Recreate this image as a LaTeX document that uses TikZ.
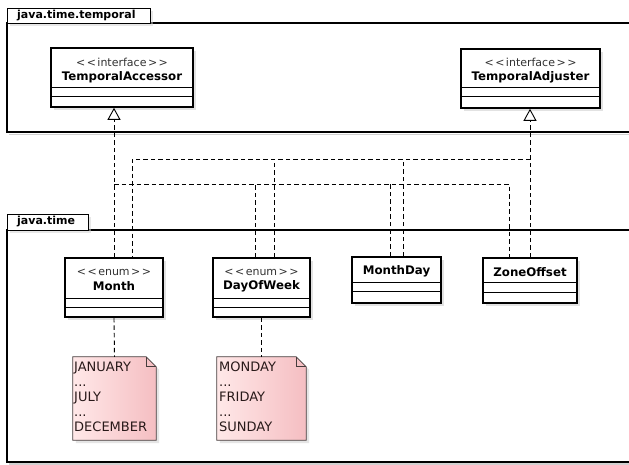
\documentclass[tikz,border=0pt]{standalone}
\usepackage{fontspec}
\setmainfont{DejaVu Sans}
\usetikzlibrary{arrows.meta,shadows,calc}
\definecolor{notelight}{RGB}{255,232,232}
\definecolor{notedark}{RGB}{245,190,194}
\definecolor{noteline}{RGB}{70,60,60}
\definecolor{notetext}{RGB}{40,25,25}
\definecolor{stereo}{RGB}{50,50,50}
\begin{document}
\begin{tikzpicture}[x=1pt,y=-1pt,
  pkgline/.style={line width=1.4pt},
  pkgtab/.style={draw, pkgline, fill=white, anchor=north west, inner sep=0pt,
    drop shadow={shadow xshift=2pt,shadow yshift=-2pt,fill=black!18}},
  pkglabel/.style={font=\fontsize{11}{13}\bfseries\selectfont, inner sep=0pt, anchor=west},
  cls/.style={draw, line width=1.6pt, fill=white, inner sep=0pt,
    drop shadow={shadow xshift=3pt,shadow yshift=-3pt,fill=black!22}},
  comp/.style={line width=0.8pt},
  stereotype/.style={font=\fontsize{11}{13}\selectfont, text=stereo, inner sep=0pt},
  clsname/.style={font=\fontsize{11.8}{14}\bfseries\selectfont, inner sep=0pt},
  dep/.style={line width=0.9pt, dash pattern=on 4.5pt off 3pt},
  realize/.style={dep, -{Triangle[open, width=13pt, length=12pt, line width=0.9pt]}},
  notebox/.style={inner sep=0pt},
  notefill/.style={draw=noteline, line width=0.8pt, left color=notelight, right color=notedark,
    drop shadow={shadow xshift=3pt,shadow yshift=-3pt,fill=black!20}},
  notetxt/.style={font=\fontsize{13}{15}\selectfont, text=notetext, align=left, inner sep=0pt, anchor=north west}
]
\useasboundingbox (0,0) rectangle (629,464);

% package java.time.temporal
\draw[black!18, line width=1.4pt] (9,134.5) -- (629,134.5);
\draw[pkgline, fill=white] (629,23) -- (7,23) -- (7,132) -- (629,132);
\node[pkgtab, minimum width=143, minimum height=15] (ttab) at (7,8) {};
\node[pkglabel] (tlabel) at (17,15.5) {java.time.temporal};

% package java.time
\draw[black!18, line width=1.4pt] (9,464) -- (629,464);
\draw[pkgline, fill=white] (629,230) -- (7,230) -- (7,462) -- (629,462);
\node[pkgtab, minimum width=81, minimum height=16] (jtab) at (7,214) {};
\node[pkglabel] (jlabel) at (17,222) {java.time};

% interfaces
\node[cls, minimum width=142, minimum height=59] (acc) at (122,77.5) {};
\node[stereotype] (accst) at (122,62.5) {<\kern1.5pt<\kern1.5pt interface\kern1.5pt>\kern1.5pt>};
\node[clsname] (accnm) at (122,77) {TemporalAccessor};
\draw[comp] (acc.west |- 0,87) -- (acc.east |- 0,87);
\draw[comp] (acc.west |- 0,96) -- (acc.east |- 0,96);

\node[cls, minimum width=139, minimum height=59] (adj) at (530.5,78.5) {};
\node[stereotype] (adjst) at (530.5,62.5) {<\kern1.5pt<\kern1.5pt interface\kern1.5pt>\kern1.5pt>};
\node[clsname] (adjnm) at (530.5,77) {TemporalAdjuster};
\draw[comp] (adj.west |- 0,87) -- (adj.east |- 0,87);
\draw[comp] (adj.west |- 0,96) -- (adj.east |- 0,96);

% classes
\node[cls, minimum width=98, minimum height=59] (month) at (114,287.5) {};
\node[stereotype] (monthst) at (114,272.5) {<\kern1.5pt<\kern1.5pt enum\kern1.5pt>\kern1.5pt>};
\node[clsname] (monthnm) at (114,286.5) {Month};
\draw[comp] (month.west |- 0,298) -- (month.east |- 0,298);
\draw[comp] (month.west |- 0,307) -- (month.east |- 0,307);

\node[cls, minimum width=97, minimum height=59] (dow) at (261.5,287.5) {};
\node[stereotype] (dowst) at (261.5,272.5) {<\kern1.5pt<\kern1.5pt enum\kern1.5pt>\kern1.5pt>};
\node[clsname] (downm) at (261.5,286.5) {DayOfWeek};
\draw[comp] (dow.west |- 0,298) -- (dow.east |- 0,298);
\draw[comp] (dow.west |- 0,307) -- (dow.east |- 0,307);

\node[cls, minimum width=89, minimum height=46] (mday) at (396.5,280) {};
\node[clsname] (mdaynm) at (396.5,271.5) {MonthDay};
\draw[comp] (mday.west |- 0,282) -- (mday.east |- 0,282);
\draw[comp] (mday.west |- 0,291) -- (mday.east |- 0,291);

\node[cls, minimum width=94, minimum height=45] (zone) at (530,280.5) {};
\node[clsname] (zonenm) at (530,272) {ZoneOffset};
\draw[comp] (zone.west |- 0,282) -- (zone.east |- 0,282);
\draw[comp] (zone.west |- 0,292) -- (zone.east |- 0,292);

% realizations of TemporalAccessor
\coordinate (busA) at (114,184);
\coordinate (dowA) at ([xshift=-6.5pt]dow.north);
\coordinate (mdA) at ([xshift=-6.5pt]mday.north);
\coordinate (zoA) at ([xshift=-21pt]zone.north);
\draw[realize] (month.north) -- (month.north |- acc.south);
\draw[dep] (busA) -| (zoA);
\draw[dep] (dowA) -- (dowA |- busA);
\draw[dep] (mdA) -- (mdA |- busA);

% realizations of TemporalAdjuster
\coordinate (busB) at (530,159);
\coordinate (monB) at ([xshift=18pt]month.north);
\coordinate (dowB) at ([xshift=12.5pt]dow.north);
\coordinate (mdB) at ([xshift=6.5pt]mday.north);
\draw[realize] (zone.north) -- (zone.north |- adj.south);
\draw[dep] (busB) -| (monB);
\draw[dep] (dowB) -- (dowB |- busB);
\draw[dep] (mdB) -- (mdB |- busB);

% notes
\node[notebox, minimum width=83, minimum height=83] (mnote) at (114.5,398.5) {};
\path[notefill] (mnote.north west) -- ([xshift=-10pt]mnote.north east) -- ([yshift=-10pt]mnote.north east)
  -- (mnote.south east) -- (mnote.south west) -- cycle;
\draw[noteline, line width=0.8pt] ([xshift=-10pt]mnote.north east) -- ([xshift=-10pt,yshift=-10pt]mnote.north east) -- ([yshift=-10pt]mnote.north east);
\node[notetxt] (mtext) at (74,361.5) {JANUARY\\...\\JULY\\...\\DECEMBER};

\node[notebox, minimum width=89, minimum height=83] (dnote) at (261.5,398.5) {};
\path[notefill] (dnote.north west) -- ([xshift=-10pt]dnote.north east) -- ([yshift=-10pt]dnote.north east)
  -- (dnote.south east) -- (dnote.south west) -- cycle;
\draw[noteline, line width=0.8pt] ([xshift=-10pt]dnote.north east) -- ([xshift=-10pt,yshift=-10pt]dnote.north east) -- ([yshift=-10pt]dnote.north east);
\node[notetxt] (dtext) at (219,361.5) {MONDAY\\...\\FRIDAY\\...\\SUNDAY};

\draw[dep] (month.south) -- (mnote.north);
\draw[dep] (dow.south) -- (dnote.north);
\end{tikzpicture}
\end{document}
